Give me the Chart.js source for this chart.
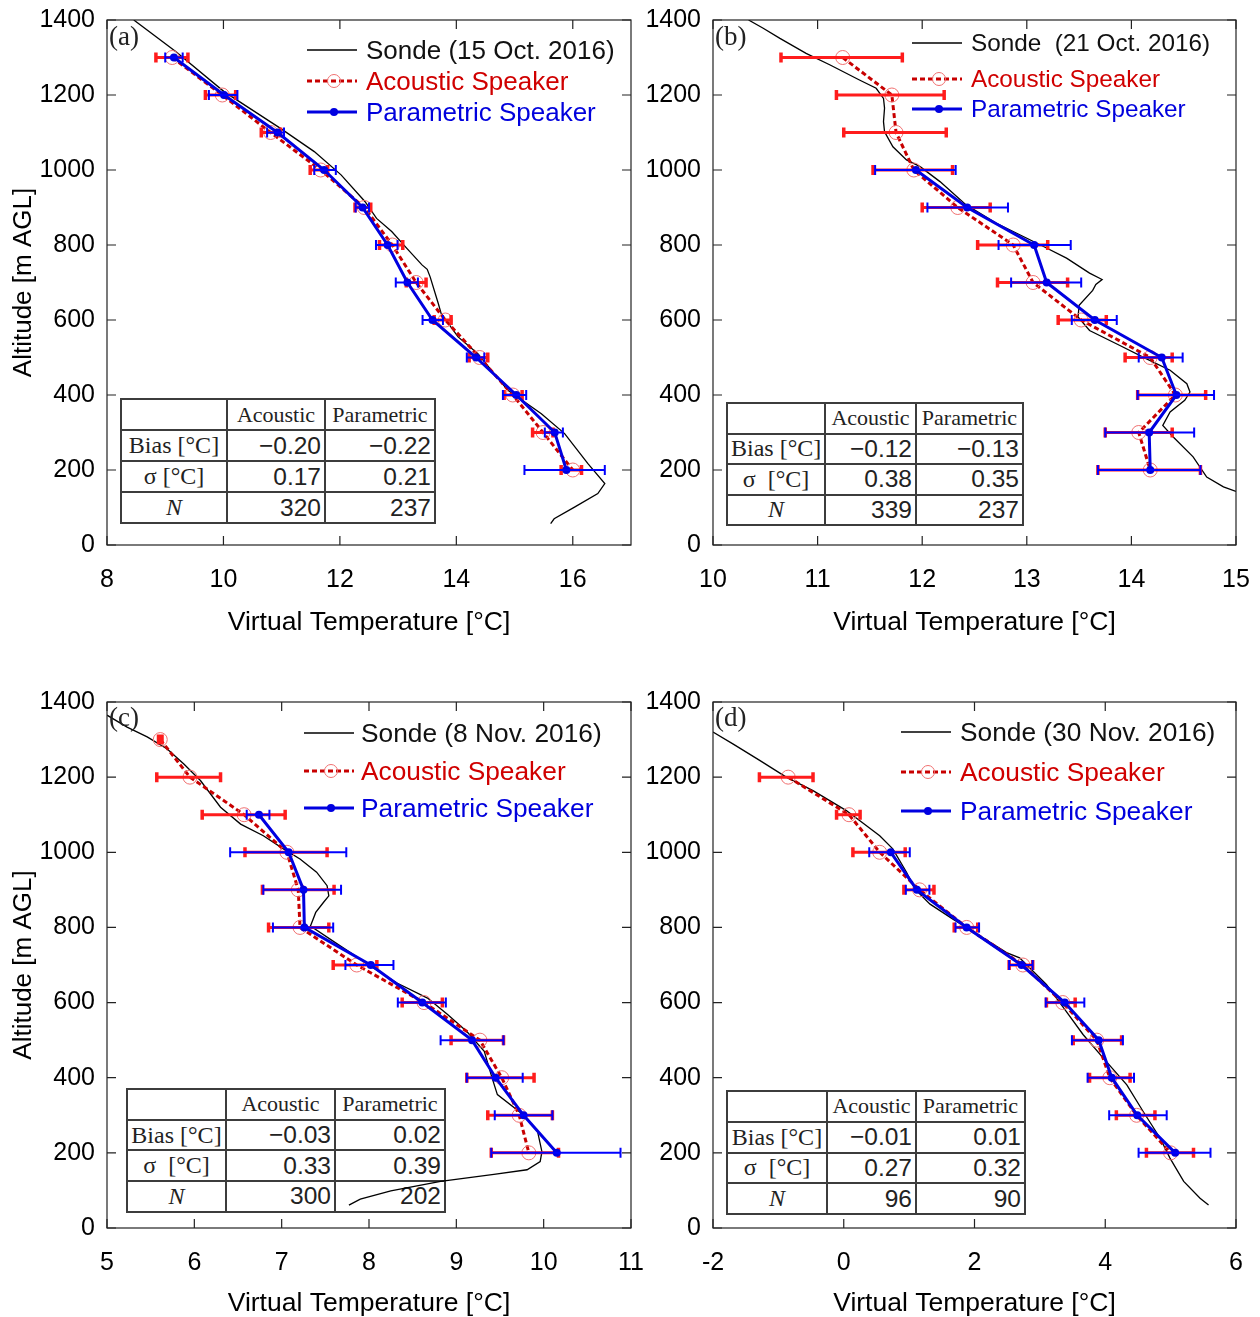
<!DOCTYPE html>
<html>
<head>
<meta charset="utf-8">
<script src="https://cdn.jsdelivr.net/npm/chart.js@4.4.1/dist/chart.umd.min.js"></script>
<style>
  body { margin: 0; background: #fff; width: 1260px; height: 1317px; position: relative; overflow: hidden;
         font-family: "Liberation Sans", Arial, sans-serif; }
  .panel { position: absolute; z-index: 1; }
  .plabel { position: absolute; z-index: 2; font-family: "Liberation Serif", "Times New Roman", serif; font-size: 27px; line-height: 1; color: #222; }
  .lg { position: absolute; z-index: 2; white-space: pre; line-height: 30px; }
  .lg svg { position: absolute; }
  table.stats { position: absolute; z-index: 0; border-collapse: collapse; table-layout: fixed; color: #222; }
  table.stats td { border: 2px solid #3c3c3c; padding: 0 3px; overflow: hidden; white-space: pre; }
  td.hd { font-family: "Liberation Serif", "Times New Roman", serif; font-size: 22px; text-align: center; }
  td.rl { font-family: "Liberation Serif", "Times New Roman", serif; font-size: 24px; text-align: center; }
  td.num { font-size: 24.5px; text-align: right; }
</style>
</head>
<body>
<script>
// ---------- data ----------
const yTicks = [0, 200, 400, 600, 800, 1000, 1200, 1400];
const alt12 = [1300, 1200, 1100, 1000, 900, 800, 700, 600, 500, 400, 300, 200];

// (a) 15 Oct. 2016
const xTicksA = [8, 10, 12, 14, 16];
const sondeTempA = [8.46, 9.18, 10.01, 10.98, 11.56, 12.02, 12.43, 12.63, 12.89, 13.15, 13.41, 13.50, 13.55, 13.69, 13.74, 14.03, 14.37, 14.88, 15.46, 15.86, 16.26, 16.55, 16.43, 16.03, 15.68, 15.62];
const sondeAltA = [1400, 1316, 1209, 1111, 1049, 987, 916, 871, 836, 791, 747, 735, 715, 644, 617, 555, 510, 413, 350, 297, 217, 164, 137, 101, 70, 57];
const acoTempA = [9.12, 9.98, 10.81, 11.67, 12.42, 12.90, 13.31, 13.81, 14.40, 14.97, 15.49, 16.00];
const acoLoA = [8.84, 9.69, 10.65, 11.49, 12.26, 12.68, 13.14, 13.62, 14.22, 14.82, 15.31, 15.80];
const acoHiA = [9.39, 10.21, 10.98, 11.79, 12.53, 13.08, 13.48, 13.91, 14.54, 15.13, 15.66, 16.15];
const parAltA = alt12;
const parTempA = [9.15, 10.01, 10.93, 11.73, 12.39, 12.82, 13.16, 13.59, 14.34, 15.03, 15.69, 15.89];
const parLoA = [9.00, 9.75, 10.75, 11.56, 12.27, 12.62, 12.96, 13.42, 14.18, 14.80, 15.52, 15.17];
const parHiA = [9.30, 10.24, 11.04, 11.93, 12.50, 12.99, 13.34, 13.77, 14.48, 15.20, 15.83, 16.55];
const statsA = [['−0.20', '−0.22'], ['0.17', '0.21'], ['320', '237']];

// (b) 21 Oct. 2016
const xTicksB = [10, 11, 12, 13, 14, 15];
const sondeTempB = [10.34, 10.48, 10.64, 10.89, 11.12, 11.40, 11.56, 11.63, 11.64, 11.63, 11.64, 11.72, 11.85, 11.98, 12.17, 12.42, 12.71, 13.00, 13.16, 13.38, 13.60, 13.72, 13.66, 13.63, 13.50, 13.49, 13.60, 13.89, 14.14, 14.37, 14.53, 14.56, 14.51, 14.37, 14.30, 14.40, 14.59, 14.72, 14.88, 15.00];
const sondeAltB = [1400, 1378, 1351, 1311, 1280, 1240, 1218, 1191, 1165, 1129, 1102, 1062, 1027, 1009, 969, 907, 858, 818, 796, 765, 725, 708, 695, 679, 639, 608, 572, 532, 497, 466, 430, 408, 386, 355, 319, 288, 235, 181, 155, 143];
const acoTempB = [11.24, 11.71, 11.75, 11.92, 12.34, 12.87, 13.06, 13.52, 14.18, 14.42, 14.07, 14.18];
const acoLoB = [10.65, 11.18, 11.25, 11.53, 12.00, 12.53, 12.72, 13.30, 13.94, 14.06, 13.75, 13.68];
const acoHiB = [11.81, 12.21, 12.23, 12.29, 12.65, 13.20, 13.39, 13.76, 14.39, 14.71, 14.39, 14.66];
const parAltB = [1000, 900, 800, 700, 600, 500, 400, 300, 200];
const parTempB = [11.94, 12.43, 13.07, 13.19, 13.65, 14.29, 14.43, 14.17, 14.18];
const parLoB = [11.55, 12.05, 12.73, 12.85, 13.43, 14.07, 14.06, 13.75, 13.68];
const parHiB = [12.32, 12.82, 13.42, 13.52, 13.86, 14.49, 14.79, 14.60, 14.66];
const statsB = [['−0.12', '−0.13'], ['0.38', '0.35'], ['339', '237']];

// (c) 8 Nov. 2016
const xTicksC = [5, 6, 7, 8, 9, 10, 11];
const sondeTempC = [5.00, 5.23, 5.46, 5.69, 5.88, 6.07, 6.30, 6.53, 6.79, 7.02, 7.21, 7.40, 7.52, 7.54, 7.48, 7.39, 7.33, 7.67, 8.02, 8.32, 8.67, 8.90, 9.12, 9.32, 9.41, 9.47, 9.77, 9.93, 9.98, 9.96, 9.81, 9.43, 8.82, 8.25, 7.90, 7.77];
const sondeAltC = [1365, 1333, 1307, 1275, 1235, 1191, 1120, 1075, 1044, 1009, 982, 947, 911, 884, 867, 840, 804, 751, 697, 652, 612, 568, 523, 470, 399, 355, 301, 257, 203, 177, 155, 143, 124, 99, 77, 61];
const acoTempC = [5.61, 5.95, 6.57, 7.06, 7.19, 7.21, 7.86, 8.63, 9.27, 9.52, 9.72, 9.83];
const acoLoC = [5.59, 5.57, 6.09, 6.58, 6.78, 6.85, 7.59, 8.38, 8.94, 9.12, 9.36, 9.40];
const acoHiC = [5.63, 6.30, 7.04, 7.52, 7.60, 7.54, 8.09, 8.84, 9.54, 9.89, 10.10, 10.17];
const parAltC = [1100, 1000, 900, 800, 700, 600, 500, 400, 300, 200];
const parTempC = [6.74, 7.08, 7.25, 7.26, 8.02, 8.61, 9.18, 9.45, 9.77, 10.15];
const parLoC = [6.60, 6.41, 6.79, 6.90, 7.73, 8.33, 8.82, 9.12, 9.44, 9.40];
const parHiC = [6.86, 7.74, 7.68, 7.59, 8.28, 8.88, 9.54, 9.76, 10.10, 10.88];
const statsC = [['−0.03', '0.02'], ['0.33', '0.39'], ['300', '202']];

// (d) 30 Nov. 2016
const xTicksD = [-2, 0, 2, 4, 6];
const sondeTempD = [-2.00, -1.69, -1.28, -0.88, -0.47, 0.04, 0.55, 0.75, 0.96, 1.09, 1.32, 1.67, 2.08, 2.49, 2.69, 3.10, 3.40, 3.66, 3.97, 4.33, 4.58, 4.84, 4.99, 5.20, 5.45, 5.58];
const sondeAltD = [1320, 1288, 1244, 1200, 1164, 1111, 1044, 1009, 947, 902, 862, 822, 778, 733, 719, 648, 577, 515, 452, 381, 310, 239, 186, 124, 79, 61];
const acoAltD = [1200, 1100, 1000, 900, 800, 700, 600, 500, 400, 300, 200];
const acoTempD = [-0.85, 0.08, 0.55, 1.16, 1.88, 2.74, 3.35, 3.87, 4.07, 4.48, 5.00];
const acoLoD = [-1.29, -0.11, 0.14, 0.92, 1.69, 2.53, 3.10, 3.51, 3.76, 4.17, 4.63];
const acoHiD = [-0.47, 0.25, 0.94, 1.38, 2.05, 2.89, 3.54, 4.25, 4.38, 4.76, 5.35];
const parAltD = [1000, 900, 800, 700, 600, 500, 400, 300, 200];
const parTempD = [0.72, 1.12, 1.88, 2.72, 3.38, 3.90, 4.10, 4.49, 5.07];
const parLoD = [0.39, 0.95, 1.71, 2.53, 3.09, 3.49, 3.73, 4.06, 4.51];
const parHiD = [1.01, 1.31, 2.07, 2.89, 3.68, 4.27, 4.44, 4.94, 5.61];
const statsD = [['−0.01', '0.01'], ['0.27', '0.32'], ['96', '90']];

// ---------- plugins ----------
const errorBarPlugin = {
  id: 'errorBars',
  afterDatasetDraw(chart, args) {
    const ds = chart.data.datasets[args.index];
    if (!ds.errLo) return;
    const { ctx, chartArea: a, scales: { x, y } } = chart;
    ctx.save();
    ctx.beginPath();
    ctx.rect(a.left, a.top, a.right - a.left, a.bottom - a.top);
    ctx.clip();
    ctx.strokeStyle = ds.errColor;
    ds.data.forEach((pt, i) => {
      const py = y.getPixelForValue(pt.y);
      const x0 = x.getPixelForValue(ds.errLo[i]);
      const x1 = x.getPixelForValue(ds.errHi[i]);
      ctx.lineWidth = ds.errWidth;
      ctx.beginPath();
      ctx.moveTo(x0, py); ctx.lineTo(x1, py);
      ctx.stroke();
      ctx.lineWidth = ds.capWidth;
      ctx.beginPath();
      ctx.moveTo(x0, py - 5); ctx.lineTo(x0, py + 5);
      ctx.moveTo(x1, py - 5); ctx.lineTo(x1, py + 5);
      ctx.stroke();
    });
    ctx.restore();
  }
};

const framePlugin = {
  id: 'frame',
  afterDraw(chart) {
    const { ctx, chartArea: a, scales: { x, y } } = chart;
    ctx.save();
    ctx.strokeStyle = '#222';
    ctx.lineWidth = 1.2;
    ctx.strokeRect(a.left, a.top, a.right - a.left, a.bottom - a.top);
    ctx.beginPath();
    x.ticks.forEach(t => {
      const px = x.getPixelForValue(t.value);
      ctx.moveTo(px, a.bottom); ctx.lineTo(px, a.bottom - 9);
      ctx.moveTo(px, a.top); ctx.lineTo(px, a.top + 9);
    });
    y.ticks.forEach(t => {
      const py = y.getPixelForValue(t.value);
      ctx.moveTo(a.left, py); ctx.lineTo(a.left + 9, py);
      ctx.moveTo(a.right, py); ctx.lineTo(a.right - 9, py);
    });
    ctx.stroke();
    ctx.restore();
  }
};

const pts = (xs, ys) => xs.map((v, i) => ({ x: v, y: ys[i] }));
const SANS = '"Liberation Sans", Arial, sans-serif';

function legendRow(lg, y, kind, text, color) {
  const d = document.createElement('div');
  d.className = 'lg';
  d.style.left = lg.sample + 'px';
  d.style.top = (y - 15) + 'px';
  d.style.fontSize = lg.size + 'px';
  let glyph = '';
  if (kind === 'sonde') glyph = '<line x1="0" y1="10" x2="50" y2="10" stroke="#000" stroke-width="1.3"/>';
  if (kind === 'aco') glyph = '<line x1="0" y1="10" x2="50" y2="10" stroke="#c80000" stroke-width="3" stroke-dasharray="5 3"/><circle cx="27" cy="10" r="6.5" fill="none" stroke="#f07070" stroke-width="1"/>';
  if (kind === 'par') glyph = '<line x1="0" y1="10" x2="50" y2="10" stroke="#0000e0" stroke-width="3"/><circle cx="27" cy="10" r="4" fill="#0000e0"/>';
  d.innerHTML = `<svg width="52" height="20" style="left:0;top:5px">${glyph}</svg><span style="position:absolute;left:${lg.text - lg.sample}px;top:0;color:${color}">${text}</span>`;
  document.body.appendChild(d);
}

function statsTable(box, stats) {
  const t = document.createElement('table');
  t.className = 'stats';
  t.style.left = box.x + 'px';
  t.style.top = box.y + 'px';
  t.style.width = (box.c[0] + box.c[1] + box.c[2]) + 'px';
  const labels = [box.bias, box.sig, '<i>N</i>'];
  let html = `<colgroup><col style="width:${box.c[0]}px"><col style="width:${box.c[1]}px"><col style="width:${box.c[2]}px"></colgroup>`;
  html += `<tr style="height:${box.rh}px"><td></td><td class="hd">Acoustic</td><td class="hd">Parametric</td></tr>`;
  stats.forEach((r, i) => {
    html += `<tr style="height:${box.rh}px"><td class="rl">${labels[i]}</td><td class="num">${r[0]}</td><td class="num">${r[1]}</td></tr>`;
  });
  t.innerHTML = html;
  document.body.appendChild(t);
}

function panel(p) {
  const wrap = document.createElement('div');
  wrap.className = 'panel';
  wrap.style.cssText = `left:${p.left}px;top:${p.top}px;width:${p.w}px;height:${p.h}px`;
  const cv = document.createElement('canvas');
  wrap.appendChild(cv);
  document.body.appendChild(wrap);

  new Chart(cv, {
    type: 'scatter',
    data: {
      datasets: [
        {
          label: 'Sonde', data: pts(p.sT, p.sA), showLine: true, order: 3,
          borderColor: '#000', borderWidth: 1.3, pointRadius: 0, tension: 0
        },
        {
          label: 'Acoustic Speaker', data: pts(p.aT, p.aA), showLine: true, order: 2,
          borderColor: '#c80000', borderWidth: 3, borderDash: [5, 3],
          pointRadius: 7, pointBorderColor: '#f07070', pointBorderWidth: 1, pointBackgroundColor: 'rgba(0,0,0,0)',
          errLo: p.aLo, errHi: p.aHi, errColor: '#ff1c1c', errWidth: 3, capWidth: 3.5
        },
        {
          label: 'Parametric Speaker', data: pts(p.pT, p.pA), showLine: true, order: 1,
          borderColor: '#0000e0', borderWidth: 3,
          pointRadius: 4, pointBackgroundColor: '#0000e0', pointBorderWidth: 0,
          errLo: p.pLo, errHi: p.pHi, errColor: '#0000ff', errWidth: 2, capWidth: 2
        }
      ]
    },
    options: {
      responsive: true,
      maintainAspectRatio: false,
      animation: false,
      layout: { padding: { top: p.padTop, right: p.padRight, left: 0, bottom: 0 } },
      plugins: { legend: { display: false }, tooltip: { enabled: false } },
      scales: {
        x: {
          type: 'linear', min: p.xTicks[0], max: p.xMax,
          afterBuildTicks: s => { s.ticks = p.xTicks.map(v => ({ value: v })); },
          afterFit: s => { s.height = p.xAxisH; s.paddingLeft = 0; s.paddingRight = 0; },
          grid: { display: false, drawTicks: false },
          border: { display: false },
          ticks: { color: '#000', padding: 20, maxRotation: 0, font: { family: SANS, size: 25 },
                   callback: v => String(v) },
          title: { display: true, text: 'Virtual Temperature [°C]', color: '#000',
                   font: { family: SANS, size: 26.5 }, padding: { top: 0, bottom: p.xTitlePad } }
        },
        y: {
          type: 'linear', min: 0, max: 1400,
          afterBuildTicks: s => { s.ticks = yTicks.map(v => ({ value: v })); },
          afterFit: s => { s.width = p.yAxisW; s.paddingTop = 0; s.paddingBottom = 0; },
          grid: { display: false, drawTicks: false },
          border: { display: false },
          ticks: { color: '#000', padding: 12, font: { family: SANS, size: 25 }, callback: v => String(v) },
          title: { display: p.yTitle, text: 'Altitude [m AGL]', color: '#000',
                   font: { family: SANS, size: 26 }, padding: { top: 8, bottom: 0 } }
        }
      }
    },
    plugins: [errorBarPlugin, framePlugin]
  });

  const lab = document.createElement('div');
  lab.className = 'plabel';
  lab.style.left = p.lbl[0] + 'px';
  lab.style.top = p.lbl[1] + 'px';
  lab.textContent = p.name;
  document.body.appendChild(lab);

  legendRow(p.lg, p.lg.rows[0], 'sonde', p.sondeText, '#111');
  legendRow(p.lg, p.lg.rows[1], 'aco', 'Acoustic Speaker', '#d00000');
  legendRow(p.lg, p.lg.rows[2], 'par', 'Parametric Speaker', '#0000dd');

  statsTable(p.tbl, p.stats);
}

panel({
  name: '(a)', left: 0, top: 0, w: 650, h: 650, padTop: 20, padRight: 19, yAxisW: 107, xAxisH: 105, xTitlePad: 11, yTitle: true,
  xTicks: xTicksA, xMax: 17,
  sT: sondeTempA, sA: sondeAltA, aT: acoTempA, aA: alt12, aLo: acoLoA, aHi: acoHiA,
  pT: parTempA, pA: parAltA, pLo: parLoA, pHi: parHiA,
  lbl: [109, 23], sondeText: 'Sonde (15 Oct. 2016)',
  lg: { sample: 307, text: 366, size: 26, rows: [50, 81, 112] },
  tbl: { x: 120, y: 398, c: [106, 98, 110], rh: 31, bias: 'Bias [°C]', sig: 'σ [°C]' }, stats: statsA
});

panel({
  name: '(b)', left: 636, top: 0, w: 624, h: 650, padTop: 20, padRight: 24, yAxisW: 77, xAxisH: 105, xTitlePad: 11, yTitle: false,
  xTicks: xTicksB, xMax: 15,
  sT: sondeTempB, sA: sondeAltB, aT: acoTempB, aA: alt12, aLo: acoLoB, aHi: acoHiB,
  pT: parTempB, pA: parAltB, pLo: parLoB, pHi: parHiB,
  lbl: [715, 23], sondeText: 'Sonde  (21 Oct. 2016)',
  lg: { sample: 912, text: 971, size: 24.3, rows: [43, 79, 109] },
  tbl: { x: 726, y: 402, c: [98, 91, 107], rh: 30.5, bias: 'Bias [°C]', sig: 'σ  [°C]' }, stats: statsB
});

panel({
  name: '(c)', left: 0, top: 680, w: 650, h: 637, padTop: 22, padRight: 19, yAxisW: 107, xAxisH: 89, xTitlePad: -3, yTitle: true,
  xTicks: xTicksC, xMax: 11,
  sT: sondeTempC, sA: sondeAltC, aT: acoTempC, aA: alt12, aLo: acoLoC, aHi: acoHiC,
  pT: parTempC, pA: parAltC, pLo: parLoC, pHi: parHiC,
  lbl: [109, 704], sondeText: 'Sonde (8 Nov. 2016)',
  lg: { sample: 304, text: 361, size: 26.3, rows: [733, 771, 808] },
  tbl: { x: 126, y: 1088, c: [99, 109, 110], rh: 30.7, bias: 'Bias [°C]', sig: 'σ  [°C]' }, stats: statsC
});

panel({
  name: '(d)', left: 636, top: 680, w: 624, h: 637, padTop: 22, padRight: 24, yAxisW: 77, xAxisH: 89, xTitlePad: -3, yTitle: false,
  xTicks: xTicksD, xMax: 6,
  sT: sondeTempD, sA: sondeAltD, aT: acoTempD, aA: acoAltD, aLo: acoLoD, aHi: acoHiD,
  pT: parTempD, pA: parAltD, pLo: parLoD, pHi: parHiD,
  lbl: [715, 704], sondeText: 'Sonde (30 Nov. 2016)',
  lg: { sample: 901, text: 960, size: 26.3, rows: [732, 772, 811] },
  tbl: { x: 726, y: 1090, c: [100, 89, 109], rh: 30.8, bias: 'Bias [°C]', sig: 'σ  [°C]' }, stats: statsD
});
</script>
</body>
</html>
